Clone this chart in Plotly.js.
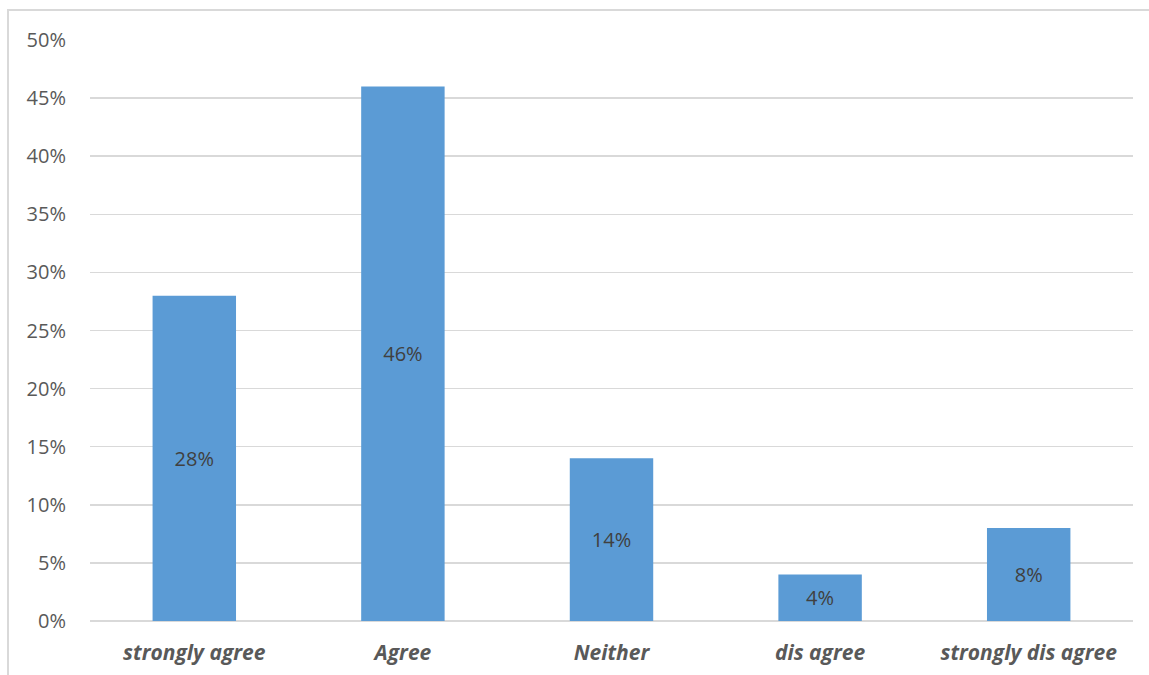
<!DOCTYPE html>
<html>
<head>
<meta charset="utf-8">
<script src="https://cdn.plot.ly/plotly-3.0.1.min.js"></script>
<style>
html,body{margin:0;padding:0;background:#fff;overflow:hidden;}
#wrap{position:relative;width:1149px;height:675px;}
#chart{position:absolute;left:0;top:0;width:1149px;height:675px;}
#frame{position:absolute;left:7px;top:9px;width:1300px;height:800px;border-left:2px solid #d9d9d9;border-top:2px solid #d9d9d9;pointer-events:none;}
</style>
</head>
<body>
<div id="wrap"><div id="chart"></div><div id="frame"></div></div>
<script>
const categories = ["strongly agree", "Agree", "Neither", "dis agree", "strongly dis agree"];
const values = [0.28, 0.46, 0.14, 0.04, 0.08];
const yTicks = [0, 0.05, 0.10, 0.15, 0.20, 0.25, 0.30, 0.35, 0.40, 0.45, 0.50];

const trace = {
  type: 'bar',
  x: categories.map(c => '<b><i>' + c + '</i></b>'),
  y: values,
  marker: {color: '#5B9BD5'},
  texttemplate: '%{y:.0%}',
  textposition: 'inside',
  insidetextanchor: 'middle',
  constraintext: 'none',
  textfont: {family: 'Open Sans, sans-serif', size: 20, color: '#404040'},
  hoverinfo: 'none'
};

const layout = {
  width: 1149, height: 675,
  margin: {l: 90, r: 16, t: 40, b: 54},
  paper_bgcolor: '#ffffff', plot_bgcolor: '#ffffff',
  showlegend: false,
  bargap: 0.6,
  font: {family: 'Open Sans, sans-serif', color: '#595959'},
  xaxis: {
    type: 'category',
    showgrid: false, zeroline: false, showline: false,
    ticks: '',
    tickfont: {family: 'Open Sans, sans-serif', size: 21, color: '#595959'},
    ticklabelstandoff: 17
  },
  yaxis: {
    range: [0, 0.5],
    tickvals: yTicks,
    tickformat: '.0%',
    showgrid: true, gridcolor: '#d9d9d9', gridwidth: 1.5,
    zeroline: true, zerolinecolor: '#d9d9d9', zerolinewidth: 1.5,
    showline: false, ticks: '',
    tickfont: {family: 'Open Sans, sans-serif', size: 20, color: '#595959'},
    ticklabelstandoff: 23
  }
};

Plotly.newPlot('chart', [trace], layout, {displayModeBar: false, staticPlot: true});
</script>
</body>
</html>
